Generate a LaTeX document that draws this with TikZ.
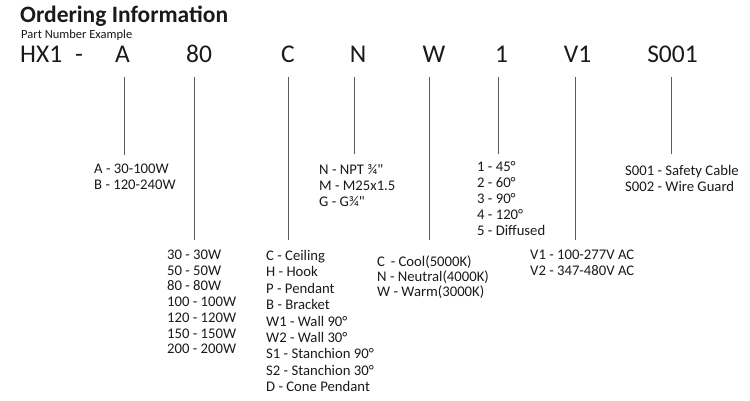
\documentclass[tikz,border=0pt]{standalone}
\usepackage{fontspec}
\setmainfont{Carlito}
\usepackage{xcolor}
\usetikzlibrary{positioning}
\definecolor{ink}{HTML}{1A1A1A}
\definecolor{leadgray}{HTML}{5A5A5A}

\begin{document}
\begin{tikzpicture}[
  x=1pt,y=-1pt,
  every node/.style={inner sep=0pt,text=ink},
  title/.style={font=\fontsize{23.5}{27}\selectfont\bfseries,anchor=base west},
  sub/.style={font=\fontsize{12.5}{15}\selectfont,anchor=base west},
  code/.style={font=\fontsize{25.5}{30}\selectfont,anchor=base},
  opt/.style={font=\fontsize{14.7}{#1}\selectfont,anchor=base west,align=left},
  opt/.default=15.7,
  lead/.style={draw=leadgray,line width=0.9pt}
]
  \useasboundingbox (0,0) rectangle (750,401);

  \node[title] (head) at (20,23) {Ordering Information};
  \node[sub] (pne) at (21,39) {Part Number Example};

  % part number
  \node[code,anchor=base west] (cHX) at (20,63) {HX1};
  \node[code] (cdash) at (79,63) {-};
  \node[code] (cA) at (122.5,63) {A};
  \node[code] (c80) at (199,63) {80};
  \node[code] (cC) at (288,63) {C};
  \node[code] (cN) at (358,63) {N};
  \node[code] (cW) at (434,63) {W};
  \node[code] (c1) at (501.5,63) {1};
  \node[code] (cV) at (577.5,63) {V1};
  \node[code] (cS) at (672.5,63) {S001};

  % lead ends
  \coordinate (eA) at (124,155);
  \coordinate (e80) at (194,240);
  \coordinate (eC) at (288,240);
  \coordinate (eN) at (354,154);
  \coordinate (eW) at (429,240);
  \coordinate (e1) at (498,154);
  \coordinate (eV) at (575,240);
  \coordinate (eS) at (671,154);

  \draw[lead] (cA.south -| eA) ++(0,14) -- (eA);
  \draw[lead] (c80.south -| e80) ++(0,14) -- (e80);
  \draw[lead] (cC.south -| eC) ++(0,14) -- (eC);
  \draw[lead] (cN.south -| eN) ++(0,14) -- (eN);
  \draw[lead] (cW.south -| eW) ++(0,14) -- (eW);
  \draw[lead] (c1.south -| e1) ++(0,14) -- (e1);
  \draw[lead] (cV.south -| eV) ++(0,14) -- (eV);
  \draw[lead] (cS.south -| eS) ++(0,14) -- (eS);

  % options (placed at the baseline of their last line)
  \node[opt=15.5] (oA) at (94,189.5) {A - 30-100W\\B - 120-240W};
  \node[opt=15.7] (o80) at (167,353.7) {30 - 30W\\50 - 50W\\80 - 80W\\100 - 100W\\120 - 120W\\150 - 150W\\200 - 200W};
  \node[opt=16.4] (oC) at (266,391.7) {C - Ceiling\\H - Hook\\P - Pendant\\B - Bracket\\W1 - Wall 90°\\W2 - Wall 30°\\S1 - Stanchion 90°\\S2 - Stanchion 30°\\D - Cone Pendant};
  \node[opt=16] (oN) at (319,206) {N - NPT ¾\textquotedbl\\M - M25x1.5\\G - G¾\textquotedbl};
  \node[opt=15.4] (oW) at (377,296.8) {C\, - Cool(5000K)\\N - Neutral(4000K)\\W - Warm(3000K)};
  \node[opt=15.8] (o1) at (477,235) {1 - 45°\\2 - 60°\\3 - 90°\\4 - 120°\\5 - Diffused};
  \node[opt=15.5] (oV) at (530,275) {V1 - 100-277V AC\\V2 - 347-480V AC};
  \node[opt=15.2] (oS) at (625,191) {S001 - Safety Cable\\S002 - Wire Guard};
\end{tikzpicture}
\end{document}
